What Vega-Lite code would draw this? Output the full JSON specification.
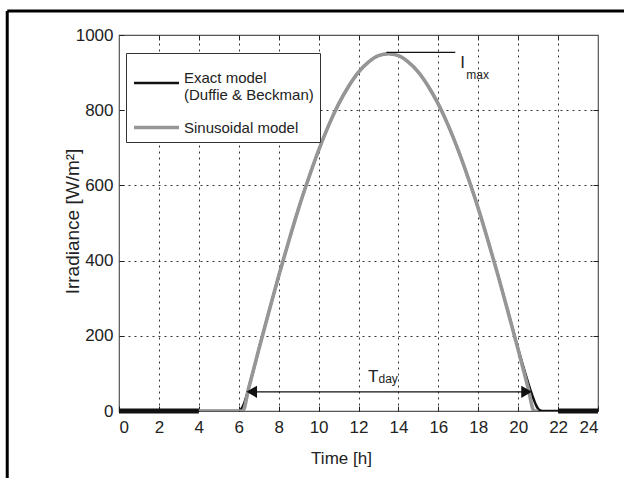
{
  "$schema": "https://vega.github.io/schema/vega-lite/v6.json",
  "width": 479,
  "height": 376,
  "autosize": {"type": "none"},
  "padding": {"left": 119, "top": 35, "right": 26, "bottom": 67},
  "background": "white",
  "config": {
    "view": {"stroke": "#555555", "strokeWidth": 1.2},
    "font": "Liberation Sans, Arial, sans-serif",
    "axis": {
      "labelFont": "Liberation Sans, Arial, sans-serif",
      "titleFont": "Liberation Sans, Arial, sans-serif",
      "labelFontSize": 17,
      "titleFontSize": 17,
      "titleFontWeight": "normal",
      "labelColor": "#222222",
      "titleColor": "#222222",
      "tickColor": "#222222",
      "domain": false,
      "grid": false
    }
  },
  "datasets": {
    "curves": [
      {"t": 0, "irr": 0, "model": "Exact"},
      {"t": 6.0, "irr": 0, "model": "Exact"},
      {"t": 6.1, "irr": 4, "model": "Exact"},
      {"t": 6.2, "irr": 12, "model": "Exact"},
      {"t": 6.3, "irr": 25, "model": "Exact"},
      {"t": 6.4, "irr": 42, "model": "Exact"},
      {"t": 6.5, "irr": 62, "model": "Exact"},
      {"t": 6.6, "irr": 82, "model": "Exact"},
      {"t": 6.8, "irr": 121, "model": "Exact"},
      {"t": 7.0, "irr": 163, "model": "Exact"},
      {"t": 7.5, "irr": 262, "model": "Exact"},
      {"t": 8.0, "irr": 359, "model": "Exact"},
      {"t": 8.5, "irr": 451, "model": "Exact"},
      {"t": 9.0, "irr": 539, "model": "Exact"},
      {"t": 9.5, "irr": 619, "model": "Exact"},
      {"t": 10.0, "irr": 693, "model": "Exact"},
      {"t": 10.5, "irr": 759, "model": "Exact"},
      {"t": 11.0, "irr": 816, "model": "Exact"},
      {"t": 11.5, "irr": 863, "model": "Exact"},
      {"t": 12.0, "irr": 901, "model": "Exact"},
      {"t": 12.5, "irr": 928, "model": "Exact"},
      {"t": 13.0, "irr": 945, "model": "Exact"},
      {"t": 13.5, "irr": 950, "model": "Exact"},
      {"t": 14.0, "irr": 945, "model": "Exact"},
      {"t": 14.5, "irr": 928, "model": "Exact"},
      {"t": 15.0, "irr": 901, "model": "Exact"},
      {"t": 15.5, "irr": 863, "model": "Exact"},
      {"t": 16.0, "irr": 816, "model": "Exact"},
      {"t": 16.5, "irr": 759, "model": "Exact"},
      {"t": 17.0, "irr": 693, "model": "Exact"},
      {"t": 17.5, "irr": 619, "model": "Exact"},
      {"t": 18.0, "irr": 539, "model": "Exact"},
      {"t": 18.5, "irr": 451, "model": "Exact"},
      {"t": 19.0, "irr": 359, "model": "Exact"},
      {"t": 19.5, "irr": 263, "model": "Exact"},
      {"t": 20.0, "irr": 165, "model": "Exact"},
      {"t": 20.2, "irr": 128, "model": "Exact"},
      {"t": 20.4, "irr": 92, "model": "Exact"},
      {"t": 20.6, "irr": 58, "model": "Exact"},
      {"t": 20.8, "irr": 28, "model": "Exact"},
      {"t": 20.9, "irr": 15, "model": "Exact"},
      {"t": 21.0, "irr": 6, "model": "Exact"},
      {"t": 21.1, "irr": 1.5, "model": "Exact"},
      {"t": 21.2, "irr": 0, "model": "Exact"},
      {"t": 24, "irr": 0, "model": "Exact"},
      {"t": 4.0, "irr": 0, "model": "Sinusoidal"},
      {"t": 6.2, "irr": 0, "model": "Sinusoidal"},
      {"t": 6.5, "irr": 61, "model": "Sinusoidal"},
      {"t": 7.0, "irr": 163, "model": "Sinusoidal"},
      {"t": 7.5, "irr": 262, "model": "Sinusoidal"},
      {"t": 8.0, "irr": 359, "model": "Sinusoidal"},
      {"t": 8.5, "irr": 451, "model": "Sinusoidal"},
      {"t": 9.0, "irr": 539, "model": "Sinusoidal"},
      {"t": 9.5, "irr": 619, "model": "Sinusoidal"},
      {"t": 10.0, "irr": 693, "model": "Sinusoidal"},
      {"t": 10.5, "irr": 759, "model": "Sinusoidal"},
      {"t": 11.0, "irr": 816, "model": "Sinusoidal"},
      {"t": 11.5, "irr": 863, "model": "Sinusoidal"},
      {"t": 12.0, "irr": 901, "model": "Sinusoidal"},
      {"t": 12.5, "irr": 928, "model": "Sinusoidal"},
      {"t": 13.0, "irr": 945, "model": "Sinusoidal"},
      {"t": 13.5, "irr": 950, "model": "Sinusoidal"},
      {"t": 14.0, "irr": 945, "model": "Sinusoidal"},
      {"t": 14.5, "irr": 928, "model": "Sinusoidal"},
      {"t": 15.0, "irr": 901, "model": "Sinusoidal"},
      {"t": 15.5, "irr": 863, "model": "Sinusoidal"},
      {"t": 16.0, "irr": 816, "model": "Sinusoidal"},
      {"t": 16.5, "irr": 759, "model": "Sinusoidal"},
      {"t": 17.0, "irr": 693, "model": "Sinusoidal"},
      {"t": 17.5, "irr": 619, "model": "Sinusoidal"},
      {"t": 18.0, "irr": 539, "model": "Sinusoidal"},
      {"t": 18.5, "irr": 451, "model": "Sinusoidal"},
      {"t": 19.0, "irr": 359, "model": "Sinusoidal"},
      {"t": 19.5, "irr": 262, "model": "Sinusoidal"},
      {"t": 20.0, "irr": 163, "model": "Sinusoidal"},
      {"t": 20.5, "irr": 61, "model": "Sinusoidal"},
      {"t": 20.8, "irr": 0, "model": "Sinusoidal"},
      {"t": 21.0, "irr": 0, "model": "Sinusoidal"}
    ],
    "thick": [
      {"t": 0, "t2": 4, "irr": 0},
      {"t": 22, "t2": 24, "irr": 0}
    ],
    "frame": [
      {"x1": -5.6, "x2": 25.6, "y1": 1064, "y2": 1064},
      {"x1": -5.6, "x2": -5.6, "y1": 1064, "y2": -190}
    ],
    "arrowline": [
      {"t": 6.5, "t2": 20.55, "irr": 51}
    ],
    "arrowheads": [
      {"t": 6.65, "irr": 51, "shape": "triangle-left"},
      {"t": 20.42, "irr": 51, "shape": "triangle-right"}
    ],
    "imaxline": [
      {"t": 13.4, "t2": 16.85, "irr": 954}
    ],
    "labels": [
      {"t": 12.47, "irr": 77, "txt": "T", "kind": "big"},
      {"t": 13.0, "irr": 74, "txt": "day", "kind": "sub"},
      {"t": 17.1, "irr": 912, "txt": "I", "kind": "big"},
      {"t": 17.4, "irr": 883, "txt": "max", "kind": "sub"}
    ]
  },
  "layer": [
    {
      "data": {"name": "frame"},
      "mark": {"type": "rule", "color": "black", "strokeWidth": 3, "clip": false},
      "encoding": {
        "x": {"field": "x1", "type": "quantitative", "scale": {"domain": [0, 24], "nice": false, "zero": false}, "axis": null},
        "x2": {"field": "x2"},
        "y": {"field": "y1", "type": "quantitative", "scale": {"domain": [0, 1000], "nice": false, "zero": false}, "axis": null},
        "y2": {"field": "y2"}
      }
    },
    {
      "data": {"name": "curves"},
      "mark": {"type": "line", "interpolate": "monotone", "clip": true},
      "encoding": {
        "x": {
          "field": "t", "type": "quantitative",
          "axis": {
            "values": [0, 2, 4, 6, 8, 10, 12, 14, 16, 18, 20, 22, 24],
            "format": "d",
            "tickSize": -5, "labelPadding": 13,
            "title": "Time [h]", "titleX": 222, "titleY": 52, "titleBaseline": "alphabetic", "titleAlign": "center"
          }
        },
        "y": {
          "field": "irr", "type": "quantitative",
          "axis": {
            "values": [0, 200, 400, 600, 800, 1000],
            "format": "d",
            "tickSize": -5, "labelPadding": 11,
            "title": "Irradiance [W/m²]",
            "titleFontSize": 19,
            "titleX": -47, "titleY": 186, "titleBaseline": "middle", "titleAlign": "center", "titleAngle": -90
          }
        },
        "color": {
          "field": "model", "type": "nominal",
          "scale": {"domain": ["Exact", "Sinusoidal"], "range": ["#111111", "#969696"]},
          "legend": {
            "orient": "none", "legendX": 7, "legendY": 18,
            "title": null,
            "symbolType": "stroke", "symbolSize": 2025, "symbolStrokeWidth": 5,
            "labelExpr": "datum.label == 'Exact' ? ['Exact model', '(Duffie & Beckman)'] : 'Sinusoidal model'",
            "labelFont": "Liberation Sans, Arial, sans-serif",
            "labelFontSize": 15, "labelColor": "#222222", "labelOffset": 3, "labelLimit": 0,
            "strokeColor": "#333333", "fillColor": "white", "padding": 6, "rowPadding": -10,
            "encode": {
              "labels": {
                "update": {
                  "baseline": {"signal": "datum.value == 'Exact' ? 'alphabetic' : 'middle'"}
                }
              }
            }
          }
        },
        "strokeWidth": {
          "field": "model", "type": "nominal",
          "scale": {"domain": ["Exact", "Sinusoidal"], "range": [2.5, 3.6]},
          "legend": null
        }
      }
    },
    {
      "data": {"name": "thick"},
      "mark": {"type": "rule", "color": "#111111", "strokeWidth": 5},
      "encoding": {
        "x": {"field": "t", "type": "quantitative", "axis": null},
        "x2": {"field": "t2"},
        "y": {"field": "irr", "type": "quantitative", "axis": null}
      }
    },
    {
      "data": {"name": "arrowline"},
      "mark": {"type": "rule", "color": "#111111", "strokeWidth": 1.2},
      "encoding": {
        "x": {"field": "t", "type": "quantitative", "axis": null},
        "x2": {"field": "t2"},
        "y": {"field": "irr", "type": "quantitative", "axis": null}
      }
    },
    {
      "data": {"name": "arrowheads"},
      "mark": {"type": "point", "filled": true, "color": "#111111", "size": 150, "opacity": 1},
      "encoding": {
        "x": {"field": "t", "type": "quantitative", "axis": null},
        "y": {"field": "irr", "type": "quantitative", "axis": null},
        "shape": {"field": "shape", "type": "nominal", "scale": null}
      }
    },
    {
      "data": {"name": "imaxline"},
      "mark": {"type": "rule", "color": "#111111", "strokeWidth": 1.2},
      "encoding": {
        "x": {"field": "t", "type": "quantitative", "axis": null},
        "x2": {"field": "t2"},
        "y": {"field": "irr", "type": "quantitative", "axis": null}
      }
    },
    {
      "data": {"name": "labels"},
      "mark": {"type": "text", "align": "left", "baseline": "alphabetic", "color": "#222222", "font": "Liberation Sans, Arial, sans-serif"},
      "encoding": {
        "x": {"field": "t", "type": "quantitative", "axis": null},
        "y": {"field": "irr", "type": "quantitative", "axis": null},
        "text": {"field": "txt"},
        "size": {"field": "kind", "type": "nominal", "scale": {"domain": ["big", "sub"], "range": [17, 12]}, "legend": null}
      }
    },
    {
      "data": {"name": "thick"},
      "mark": {"type": "point", "opacity": 0},
      "encoding": {
        "x": {
          "field": "t", "type": "quantitative",
          "axis": {"orient": "top", "values": [2, 4, 6, 8, 10, 12, 14, 16, 18, 20, 22], "labels": false, "title": null, "tickSize": -5,
                   "grid": true, "gridColor": "#111111", "gridDash": [2, 4], "gridWidth": 1, "gridOpacity": 0.85}
        },
        "y": {
          "field": "irr", "type": "quantitative",
          "axis": {"orient": "right", "values": [200, 400, 600, 800], "labels": false, "title": null, "tickSize": -5,
                   "grid": true, "gridColor": "#111111", "gridDash": [2, 4], "gridWidth": 1, "gridOpacity": 0.85}
        }
      }
    }
  ],
  "resolve": {"axis": {"x": "independent", "y": "independent"}}
}
